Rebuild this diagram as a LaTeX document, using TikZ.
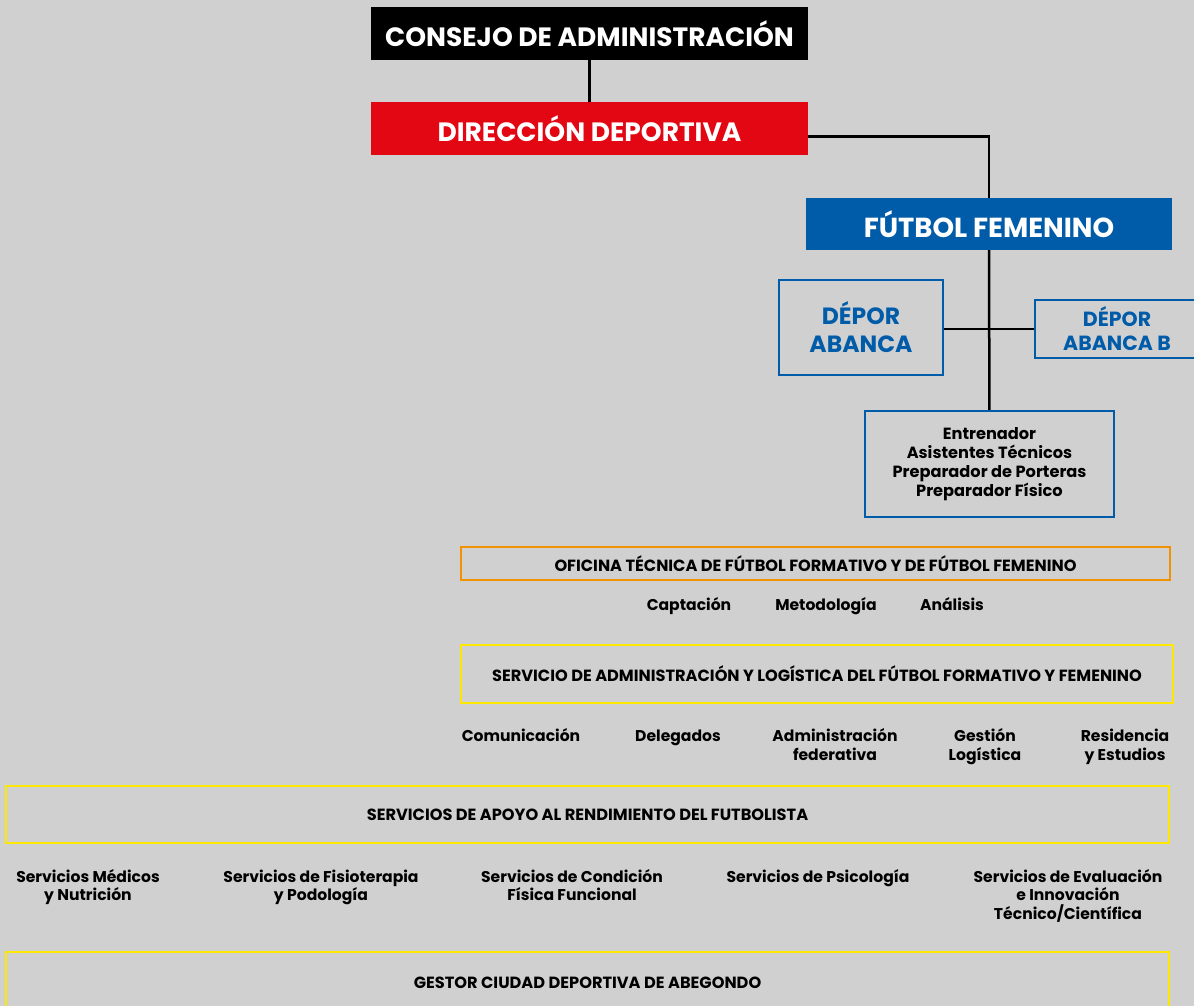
\documentclass[tikz,border=0pt]{standalone}
\usepackage{fontspec}
\setmainfont{Poppins}
\definecolor{fondo}{HTML}{D0D0D0}
\definecolor{rojo}{HTML}{E30613}
\definecolor{azul}{HTML}{005CA9}
\definecolor{naranja}{HTML}{F39200}
\definecolor{amarillo}{HTML}{FFE800}
\begin{document}
\begin{tikzpicture}[x=1pt,y=-1pt,
    titulo/.style={minimum height=53pt,text=white,font=\bfseries\fontsize{26.5}{28}\selectfont},
    equipo/.style={draw=azul,line width=2.5pt,text=azul,align=center,font=\bfseries\fontsize{23.5}{28}\selectfont},
    franja/.style={line width=2.5pt,font=\bfseries\fontsize{16.2}{18}\selectfont},
    area/.style={anchor=base,align=center,font=\bfseries\fontsize{15.6}{18.5}\selectfont},
    enlace/.style={line width=2.5pt}]
    \fill[fondo] (0,0) rectangle (1194,1006);
    \useasboundingbox (0,0) rectangle (1194,1006);
    % cabecera
    \node[titulo,fill=black,minimum width=437pt] (consejo) at (589.5,33.5) {CONSEJO DE ADMINISTRACIÓN};
    \node[titulo,fill=rojo,minimum width=437pt] (direccion) at (589.5,128.5) {DIRECCIÓN DEPORTIVA};
    \node[titulo,fill=azul,minimum width=366pt,minimum height=52pt,font=\bfseries\fontsize{27.5}{29}\selectfont] (femenino) at (989,224) {FÚTBOL FEMENINO};
    \draw[enlace] (consejo) -- (direccion);
    \draw[enlace] ([yshift=-8pt]direccion.east) -| (femenino.north);% hacia la derecha
    % equipos
    \node[equipo,minimum width=164pt,minimum height=95pt] (abanca) at (861,327.5) {DÉPOR\\ABANCA};
    \node[equipo,minimum width=164pt,minimum height=58pt,font=\bfseries\fontsize{20.5}{24}\selectfont] (abancab) at (1117,329) {DÉPOR\\ABANCA B};
    \node[equipo,text=black,minimum width=249pt,minimum height=106pt,font=\bfseries\fontsize{16.2}{19}\selectfont] (cuerpo) at (989.5,464) {Entrenador\\Asistentes Técnicos\\Preparador de Porteras\\Preparador Físico};
    \draw[enlace] (femenino) -- (cuerpo);
    \draw[enlace] (abanca.east |- abancab.west) -- (abancab.west);
    % oficina tecnica
    \node[franja,draw=naranja,minimum width=709pt,minimum height=33pt] (oficina) at (815.5,563.5) {OFICINA TÉCNICA DE FÚTBOL FORMATIVO Y DE FÚTBOL FEMENINO};
    \node[area] (captacion) at (689,610) {Captación};
    \node[area] (metodologia) at (826,610) {Metodología};
    \node[area] (analisis) at (952,610) {Análisis};
    % administracion (base = ultima linea)
    \node[franja,draw=amarillo,minimum width=712pt,minimum height=58pt] (servicio) at (817,674) {SERVICIO DE ADMINISTRACIÓN Y LOGÍSTICA DEL FÚTBOL FORMATIVO Y FEMENINO};
    \node[area] (comunicacion) at (521,741) {Comunicación};
    \node[area] (delegados) at (678,741) {Delegados};
    \node[area] (federativa) at (835,760) {Administración\\federativa};
    \node[area] (logistica) at (985,760) {Gestión\\Logística};
    \node[area] (residencia) at (1125,760) {Residencia\\y Estudios};
    % apoyo al rendimiento
    \node[franja,draw=amarillo,minimum width=1163pt,minimum height=57pt] (apoyo) at (587.5,814.5) {SERVICIOS DE APOYO AL RENDIMIENTO DEL FUTBOLISTA};
    \node[area] (medicos) at (88,900.5) {Servicios Médicos\\y Nutrición};
    \node[area] (fisio) at (321,900.5) {Servicios de Fisioterapia\\y Podología};
    \node[area] (condicion) at (572,900.5) {Servicios de Condición\\Física Funcional};
    \node[area] (psicologia) at (818,882) {Servicios de Psicología};
    \node[area] (evaluacion) at (1068,919) {Servicios de Evaluación\\e Innovación\\Técnico/Científica};
    % ciudad deportiva
    \node[franja,draw=amarillo,minimum width=1163pt,minimum height=62pt] (gestor) at (587.5,983) {GESTOR CIUDAD DEPORTIVA DE ABEGONDO};
\end{tikzpicture}
\end{document}
